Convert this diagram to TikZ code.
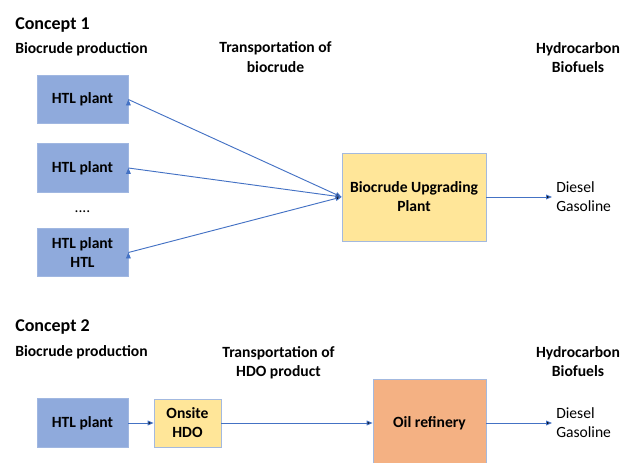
\documentclass[tikz,border=0pt]{standalone}
\usepackage{fontspec}
\setmainfont{Carlito}
\usetikzlibrary{arrows.meta}
\definecolor{htlblue}{HTML}{8FAADC}
\definecolor{hdoyellow}{HTML}{FFE699}
\definecolor{refinery}{HTML}{F4B183}
\definecolor{boxline}{HTML}{A3B9DF}
\definecolor{flowblue}{HTML}{4472C4}
\tikzset{
    every node/.style={inner sep=0pt, align=center,
    	font=\fontsize{11.7}{14.3}\selectfont},
    title/.style={anchor=base west, font=\fontsize{13.5}{16}\selectfont\bfseries},
    heading/.style={font=\fontsize{11.7}{14.3}\selectfont\bfseries},
    unit/.style={draw=boxline, line width=0.6pt,
    	font=\fontsize{11.7}{14.3}\selectfont\bfseries},
    htl/.style={unit, fill=htlblue, draw=htlblue!85!white,
    	minimum width=68.25pt, minimum height=36.5pt},
    fuel/.style={anchor=west, align=left, inner xsep=3pt},
    flow/.style={draw=flowblue, line width=0.7pt,
    	-{Triangle[length=4.5pt, width=3.6pt]}}
}

\begin{document}
\begin{tikzpicture}[x=7.5pt, y=-7.5pt]
	\clip (0, 0) rectangle (62.2, 46.3);
	% concept 1
	\node (c1) [title] at (1.5, 3.0) {Concept 1};
	\node (p1) [heading, anchor=base west] at (1.5, 5.33) {Biocrude production};
	\node (t1) [heading] at (27.55, 5.71) {Transportation of\\biocrude};
	\node (h1) [heading] at (57.8, 5.74) {Hydrocarbon\\Biofuels};
	\node (1) [htl] at (8.25, 9.95) {HTL plant};
	\node (2) [htl] at (8.25, 16.8) {HTL plant};
	\node (dots) at (8.25, 21.2) {....};
	\node (3) [htl] at (8.25, 25.25) {HTL plant\\HTL};
	\node (upg) [unit, fill=hdoyellow, minimum width=108pt, minimum height=66pt]
		at (41.4, 19.7) {Biocrude Upgrading\\Plant};
	\node (f1) [fuel] at (55.2, 19.7) {Diesel\\Gasoline};
	
	\draw[flow] (1.east) edge (upg.west); \draw[flow] (2.east) edge (upg.west);
	\draw[flow] (3.east) edge (upg.west); \draw[flow] (upg) edge (f1);
	
	% concept 2
	\node (c2) [title] at (1.5, 33.2) {Concept 2};
	\node (p2) [heading, anchor=base west] at (1.5, 35.67) {Biocrude production};
	\node (t2) [heading] at (27.85, 36.3) {Transportation of\\HDO product};
	\node (h2) [heading] at (57.8, 36.15) {Hydrocarbon\\Biofuels};
	\node (4) [htl] at (8.25, 42.3) {HTL plant};
	\node (hdo) [unit, fill=hdoyellow, minimum width=50.25pt, minimum height=36pt]
		at (18.75, 42.3) {Onsite\\HDO};
	\node (oil) [unit, fill=refinery, minimum width=84.75pt, minimum height=66pt]
		at (42.95, 42.3) {Oil refinery};
	\node (f2) [fuel] at (55.2, 42.3) {Diesel\\Gasoline};
	
	\draw[flow] (4) edge (hdo); \draw[flow] (hdo) edge (oil);
	\draw[flow] (oil) edge (f2);
\end{tikzpicture}
\end{document}
